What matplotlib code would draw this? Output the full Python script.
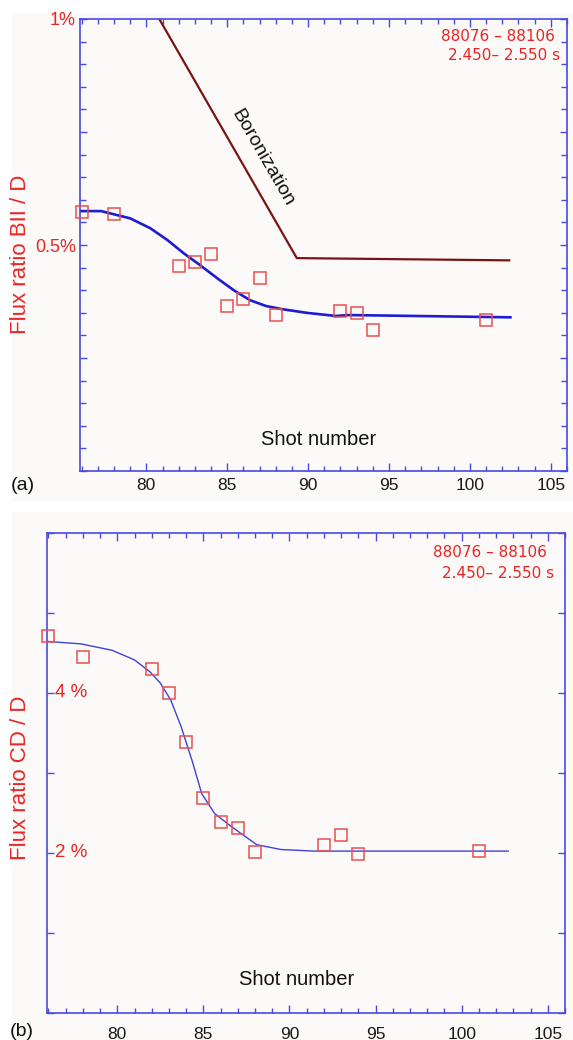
import matplotlib
matplotlib.use('Agg')
import matplotlib.pyplot as plt
from matplotlib.ticker import MultipleLocator, FixedLocator
from matplotlib.patches import Rectangle

# ---------------- data ----------------
shots_a = [76, 78, 82, 83, 84, 85, 86, 87, 88, 92, 93, 94, 101]
ratio_bii = [0.573, 0.568, 0.453, 0.462, 0.480, 0.365, 0.380, 0.426, 0.346, 0.354, 0.350, 0.313, 0.334]
fit_a_x = [76, 77.2, 79.0, 80.25, 81.3, 82.3, 83.3, 84.4, 85.4, 86.4, 87.4, 88.4, 89.9, 91.7, 92.5, 94.6, 102.5]
fit_a_y = [0.575, 0.575, 0.559, 0.537, 0.511, 0.482, 0.456, 0.426, 0.400, 0.378, 0.365, 0.358, 0.350, 0.343, 0.345, 0.344, 0.340]
boron_x = [80.8, 89.3, 102.5]
boron_y = [1.0, 0.471, 0.466]

shots_b = [76, 78, 82, 83, 84, 85, 86, 87, 88, 92, 93, 94, 101]
ratio_cd = [4.71, 4.45, 4.30, 4.00, 3.39, 2.69, 2.39, 2.31, 2.01, 2.10, 2.22, 1.98, 2.02]
fit_b_x = [76, 77.9, 79.7, 81.0, 81.9, 82.5, 83.1, 83.7, 84.33, 84.9, 85.65, 86.6, 88.1, 89.5, 91.4, 95.3, 102.7]
fit_b_y = [4.64, 4.61, 4.53, 4.41, 4.26, 4.12, 3.91, 3.58, 3.16, 2.74, 2.49, 2.33, 2.10, 2.04, 2.02, 2.02, 2.02]

xticks = [80, 85, 90, 95, 100, 105]
xtick_labels = ['80', '85', '90', '95', '100', '105']
yticks_a = [0.5, 1.0]
ytick_labels_a = ['0.5%', '1%']
yticks_b = [2, 4]
ytick_labels_b = ['2 %', '4 %']
shot_range = '88076 \u2013 88106'
time_range = '2.450\u2013 2.550 s'

# ---------------- style ----------------
plt.rcParams['font.family'] = ['Liberation Sans', 'DejaVu Sans']
W, H = 573, 1040
spine_c = '#4a4ae0'
red = '#e82525'
sq_c = '#e85050'
bg = '#fcfaf8'

fig = plt.figure(figsize=(W / 100, H / 100), dpi=100)
fig.patch.set_facecolor('white')
fig.patches.append(Rectangle((12 / W, 1 - 500 / H), (W - 12) / W, (500 - 13) / H,
                             transform=fig.transFigure, color=bg, zorder=-10))
fig.patches.append(Rectangle((12 / W, 0), (W - 12) / W, (1040 - 512) / H,
                             transform=fig.transFigure, color=bg, zorder=-10))


def px_axes(l, r, t, b):
    return fig.add_axes([l / W, 1 - b / H, (r - l) / W, (b - t) / H])


def style(ax, pad):
    ax.set_facecolor(bg)
    for s in ax.spines.values():
        s.set_color(spine_c)
        s.set_linewidth(1.2)
    ax.set_xlim(75.9, 106)
    ax.xaxis.set_major_locator(FixedLocator(xticks))
    ax.set_xticklabels(xtick_labels)
    ax.xaxis.set_minor_locator(MultipleLocator(1))
    ax.tick_params(axis='both', which='both', direction='in', top=True, right=True,
                   color=spine_c, width=1.0)
    ax.tick_params(axis='x', which='major', length=6, labelsize=12.5, labelcolor='#1a1a1a', pad=pad)
    ax.tick_params(axis='x', which='minor', length=3.5)


# ---------------- panel (a) ----------------
axa = px_axes(80, 567, 19, 471)
style(axa, 5)
axa.set_ylim(0, 1.0)
major_a = [0, 0.25, 0.5, 0.75, 1.0]
axa.yaxis.set_major_locator(FixedLocator(major_a))
lab_map_a = dict(zip(yticks_a, ytick_labels_a))
axa.set_yticklabels([lab_map_a.get(v, '') for v in major_a])
axa.yaxis.set_minor_locator(MultipleLocator(0.05))
axa.tick_params(axis='y', which='major', length=5, labelsize=13, labelcolor=red, pad=3)
axa.tick_params(axis='y', which='minor', length=4.5)

axa.plot(boron_x, boron_y, color='#7a1414', lw=1.6, solid_capstyle='butt', zorder=2)
axa.plot(fit_a_x, fit_a_y, color='#1c1cd2', lw=1.9, zorder=3)
axa.plot(shots_a, ratio_bii, ls='none', marker='s', ms=8, mfc='none', mec=sq_c, mew=1.1,
         clip_on=False, zorder=4)
axa.text(87.19, 0.6925, 'Boronization', rotation=-60, rotation_mode='anchor',
         ha='center', va='center', fontsize=14, color='#111111')
axa.text(0.491, 0.069, 'Shot number', transform=axa.transAxes, ha='center', va='center',
         fontsize=14.5, color='#111111')
axa.text(0.741, 0.962, shot_range, transform=axa.transAxes, ha='left', va='center',
         fontsize=11, color=red, family='DejaVu Sans')
axa.text(0.756, 0.920, time_range, transform=axa.transAxes, ha='left', va='center',
         fontsize=11, color=red, family='DejaVu Sans')
fig.text(21 / W, 1 - 254 / H, 'Flux ratio BII / D', rotation=90, ha='center', va='center',
         fontsize=16, color=red)
fig.text(11 / W, 1 - 485 / H, '(a)', ha='left', va='center', fontsize=14, color='#111111')

# ---------------- panel (b) ----------------
axb = px_axes(46.7, 565, 532.7, 1012.7)
style(axb, 10)
axb.set_ylim(0, 6)
axb.yaxis.set_major_locator(MultipleLocator(1))
axb.yaxis.set_minor_locator(FixedLocator([]))
axb.tick_params(axis='y', which='major', length=5, labelleft=False)
axb.plot(fit_b_x, fit_b_y, color='#4040dc', lw=1.0, zorder=3)
axb.plot(shots_b, ratio_cd, ls='none', marker='s', ms=8, mfc='none', mec=sq_c, mew=1.1,
         clip_on=False, zorder=4)
for v, lab in zip(yticks_b, ytick_labels_b):
    axb.text(0.016, v, lab, transform=axb.get_yaxis_transform(), ha='left', va='center',
             fontsize=13.5, color=red)
axb.text(0.482, 0.070, 'Shot number', transform=axb.transAxes, ha='center', va='center',
         fontsize=14.5, color='#111111')
axb.text(0.745, 0.958, shot_range, transform=axb.transAxes, ha='left', va='center',
         fontsize=11, color=red, family='DejaVu Sans')
axb.text(0.763, 0.916, time_range, transform=axb.transAxes, ha='left', va='center',
         fontsize=11, color=red, family='DejaVu Sans')
fig.text(21 / W, 1 - 778 / H, 'Flux ratio CD / D', rotation=90, ha='center', va='center',
         fontsize=16, color=red)
fig.text(10 / W, 1 - 1031 / H, '(b)', ha='left', va='center', fontsize=14, color='#111111')

fig.savefig('out.png', dpi=100, facecolor='white')
